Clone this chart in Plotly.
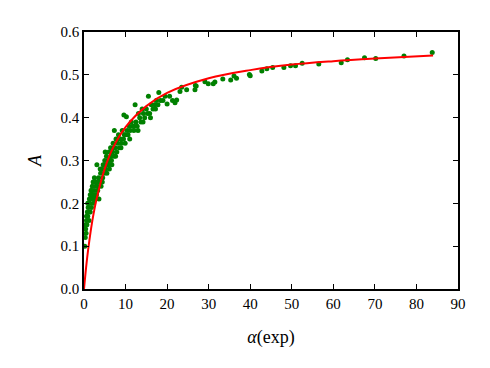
import plotly.graph_objects as go

# measured points (alpha exp, A)
alpha_exp = [
    0.2, 0.3, 0.4, 0.5, 0.6, 0.7, 0.8, 0.9, 1.0, 1.1, 1.2, 1.3, 1.4, 1.5, 1.6,
    1.7, 1.8, 1.9, 2.0, 2.1, 2.2, 2.3, 2.4, 2.5, 2.6, 2.8, 2.9, 3.0, 3.1, 3.2,
    3.3, 3.5, 3.6, 3.8, 4.0, 4.1, 4.3, 4.5, 4.6, 4.8, 5.0, 5.1, 5.2, 5.4, 5.5,
    5.7, 5.9, 6.0, 6.2, 6.4, 6.5, 6.7, 6.9, 7.0, 7.2, 7.3, 7.5, 7.7, 7.9, 8.1,
    8.3, 8.5, 8.8, 9.0, 9.2, 9.5, 9.6, 9.7, 9.9, 10.2, 10.4, 10.6, 10.9, 11.1,
    11.4, 11.7, 12.0, 12.3, 12.5, 12.8, 13.1, 13.4, 13.7, 14.0, 14.3, 14.6,
    15.0, 15.3, 15.5, 15.8, 16.2, 16.6, 17.0, 17.4, 17.8, 18.0, 18.4, 19.0,
    19.5, 20.0, 20.6, 21.3, 21.9, 22.3, 23.1, 23.5, 24.7, 26.7, 26.8, 27.0,
    29.1, 29.9, 31.1, 31.5, 33.4, 35.3, 36.1, 36.7, 39.8, 40.0, 42.8, 44.0,
    45.4, 48.1, 49.7, 50.9, 52.5, 56.5, 61.9, 63.4, 67.5, 70.2, 77.0, 83.8,
    0.3, 0.6, 0.9, 1.2, 1.5, 1.8, 2.2, 2.7, 3.4, 3.9, 4.4, 4.9, 5.6, 6.1,
    6.6, 7.1, 7.6, 8.2, 8.9, 10.0, 11.0, 12.1, 13.0, 14.2, 16.0, 17.2,
]
A_exp = [
    0.10, 0.12, 0.14, 0.13, 0.16, 0.15, 0.18, 0.17, 0.19, 0.20, 0.18, 0.21, 0.20, 0.22, 0.21,
    0.23, 0.19, 0.22, 0.24, 0.22, 0.25, 0.20, 0.23, 0.26, 0.21, 0.24, 0.25, 0.22, 0.29, 0.24,
    0.23, 0.26, 0.21, 0.25, 0.27, 0.24, 0.28, 0.26, 0.29, 0.27, 0.30, 0.32, 0.28, 0.31, 0.27,
    0.30, 0.29, 0.32, 0.30, 0.33, 0.31, 0.29, 0.32, 0.34, 0.31, 0.37, 0.33, 0.35, 0.32, 0.34,
    0.36, 0.33, 0.35, 0.34, 0.37, 0.35, 0.406, 0.36, 0.34, 0.402, 0.37, 0.36, 0.38, 0.37,
    0.39, 0.38, 0.37, 0.43, 0.39, 0.38, 0.41, 0.40, 0.39, 0.42, 0.41, 0.40,
    0.42, 0.41, 0.45, 0.41, 0.43, 0.42, 0.43, 0.44, 0.43, 0.459, 0.44, 0.44,
    0.45, 0.432, 0.45, 0.44, 0.435, 0.441, 0.461, 0.471, 0.465, 0.465, 0.475, 0.474,
    0.484, 0.479, 0.479, 0.483, 0.490, 0.488, 0.497, 0.492, 0.501, 0.498, 0.509, 0.514,
    0.517, 0.517, 0.521, 0.521, 0.527, 0.525, 0.528, 0.535, 0.540, 0.538, 0.544, 0.552,
    0.15, 0.17, 0.20, 0.16, 0.18, 0.23, 0.21, 0.22, 0.25, 0.28, 0.25, 0.29, 0.29, 0.28,
    0.30, 0.33, 0.31, 0.35, 0.33, 0.36, 0.35, 0.38, 0.37, 0.39, 0.40, 0.42,
]

# fitted curve
alpha_fit = [0, 0.5, 1, 2, 3, 5, 7, 10, 15, 20, 30, 40, 50, 60, 70, 84]
A_fit = [0, 0.050, 0.092, 0.159, 0.209, 0.281, 0.330, 0.378, 0.427, 0.458,
         0.492, 0.511, 0.524, 0.532, 0.538, 0.545]

x_ticks = list(range(0, 91, 10))
y_ticks = [0.0, 0.1, 0.2, 0.3, 0.4, 0.5, 0.6]

AXIS_STYLE = dict(
    showgrid=False,
    zeroline=False,
    showline=True,
    linecolor='black',
    linewidth=1.5,
    mirror='ticks',
    ticks='inside',
    ticklen=5,
    tickwidth=1,
    tickcolor='black',
)

fig = go.Figure()

fig.add_trace(go.Scatter(
    x=alpha_exp, y=A_exp,
    mode='markers',
    marker=dict(color='green', size=5, line=dict(width=0)),
    cliponaxis=False,
))

fig.add_trace(go.Scatter(
    x=alpha_fit, y=A_fit,
    mode='lines',
    line=dict(color='red', width=2, shape='spline'),
))

# page body has an 8px margin, so the figure is shrunk by that much
fig.update_layout(
    width=482, height=360,
    showlegend=False,
    margin=dict(l=76, r=32, t=24, b=79),
    paper_bgcolor='white',
    plot_bgcolor='white',
    font=dict(family='"Liberation Serif", "DejaVu Serif", serif', size=15, color='black'),
    xaxis=dict(AXIS_STYLE, range=[0, 90], tickvals=x_ticks,
               title=dict(text='<i>α</i>(exp)', standoff=20)),
    yaxis=dict(AXIS_STYLE, range=[0, 0.6], tickvals=y_ticks, tickformat='.1f',
               title=dict(text='<i>A</i>', standoff=14)),
)

fig.write_html("out.html")
